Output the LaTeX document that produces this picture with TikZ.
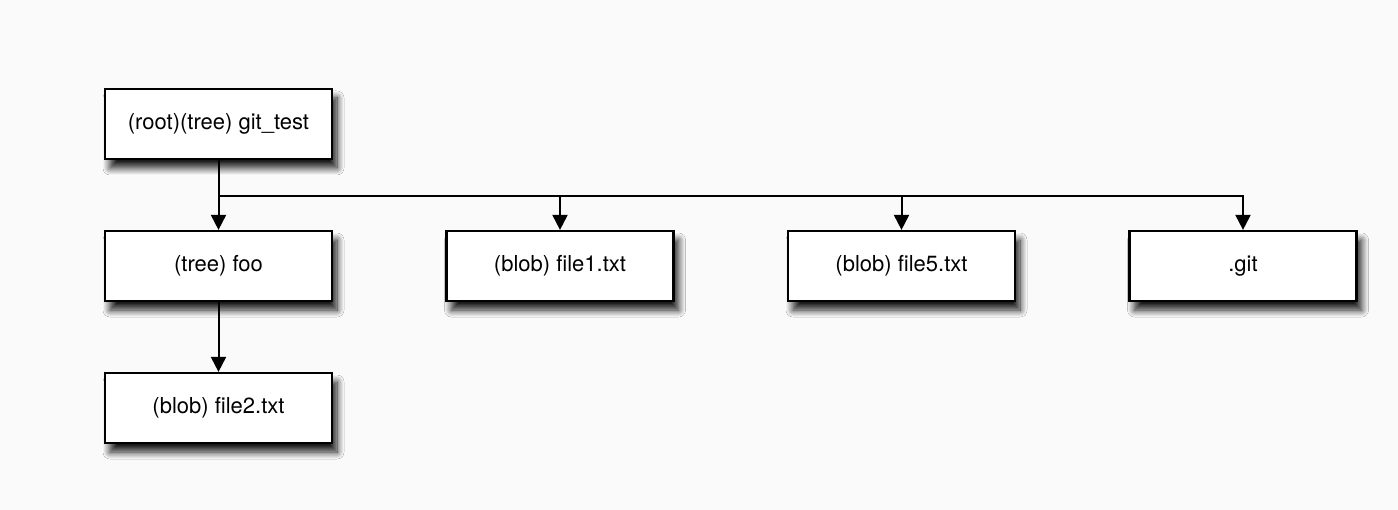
\documentclass[tikz,border=0pt]{standalone}
\usepackage{fontspec}
\setmainfont{TeX Gyre Heros}
\usetikzlibrary{arrows.meta}
\usetikzlibrary{shadows.blur}

\begin{document}
\begin{tikzpicture}[x=1pt,y=-1pt,
    obj/.style={draw=black, line width=2.2pt, fill=white, minimum width=227pt, minimum height=70pt,
      inner sep=0pt, font=\fontsize{22}{26}\selectfont,
      blur shadow={shadow xshift=5pt, shadow yshift=-9pt, shadow blur radius=7pt,
        shadow blur steps=12, shadow opacity=90}},
    link/.style={line width=2pt, -{Triangle[width=15pt,length=15pt]}}]
    % Background
    \useasboundingbox[fill={rgb,255:red,250;green,250;blue,250}] (0,0) rectangle (1398,510);
    % Root tree
    \node [obj] (root) at (218.5,124) {(root)(tree) git\_test};
    % Children of root
    \node [obj] (foo) at (218.5,266) {(tree) foo};
    \node [obj] (file1) at (560,266) {(blob) file1.txt};
    \node [obj] (file5) at (901.5,266) {(blob) file5.txt};
    \node [obj] (git) at (1243,266) {.git};
    % Child of foo
    \node [obj] (file2) at (218.5,408) {(blob) file2.txt};
    % Branch line
    \coordinate (bus) at (218.5,196);
    \coordinate (j1) at (file1.north |- bus);
    \coordinate (j5) at (file5.north |- bus);
    \draw [link] (root.south) -- (foo.north);
    \draw [link] (bus) -| (git.north);
    \draw [link] (j1) -- (file1.north);
    \draw [link] (j5) -- (file5.north);
    % foo to file2
    \draw [link] (foo.south) -- (file2.north);
\end{tikzpicture}
\end{document}
